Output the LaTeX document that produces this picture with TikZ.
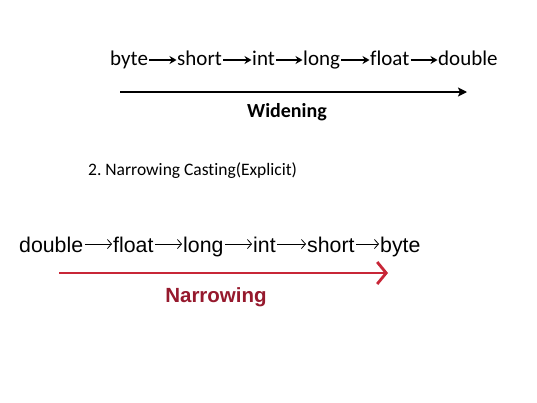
\documentclass[tikz,border=0pt]{standalone}
\usepackage{fontspec}
\usetikzlibrary{arrows.meta}
\newfontfamily\carlitofont[Ligatures=NoCommon]{Carlito}
\newfontfamily\arialfont{Liberation Sans}
\definecolor{arrowred}{RGB}{200,38,55}
\definecolor{labelred}{RGB}{150,25,45}
\tikzset{
  topword/.style={anchor=base west,inner sep=0pt,text height=14pt,text depth=4pt,font=\carlitofont\fontsize{21}{23}\selectfont},
  botword/.style={anchor=base west,inner sep=0pt,text height=20pt,text depth=4pt,font=\arialfont\fontsize{21.3}{24}\selectfont},
  toparrow/.style={line width=1.9pt,-{Stealth[length=7pt,width=8pt]},shorten <=1pt,shorten >=0.5pt},
  botarrow/.style={line width=0.8pt,-{Straight Barb[length=4pt,width=9pt]},shorten <=1.5pt,shorten >=1pt},
}
\begin{document}
\frenchspacing
\begin{tikzpicture}[x=1pt,y=-1pt]
\path[use as bounding box,fill=white] (0,0) rectangle (537,402);
% top row
\node[topword] (t1) at (110,65) {byte};
\node[topword] (t2) at (177,65) {short};
\node[topword] (t3) at (252,65) {int};
\node[topword] (t4) at (303,65) {long};
\node[topword] (t5) at (370,65) {float};
\node[topword] (t6) at (438,65) {double};
\draw[toparrow] (t1) -- (t2);
\draw[toparrow] (t2) -- (t3);
\draw[toparrow] (t3) -- (t4);
\draw[toparrow] (t4) -- (t5);
\draw[toparrow] (t5) -- (t6);
\coordinate (ws) at (120,92);
\coordinate (we) at (467,92);
\draw[line width=2pt,-{Stealth[length=9pt,width=9pt,inset=2pt]}] (ws) -- (we);
\node[inner sep=0pt,font=\carlitofont\bfseries\fontsize{20}{22}\selectfont] (wl) at (287,112) {Widening};
% middle text
\node[anchor=base west,inner sep=0pt,font=\carlitofont\fontsize{17.5}{20}\selectfont] (mt) at (88,175) {2. Narrowing Casting(Explicit)};
% bottom row
\node[botword] (b1) at (19,252) {double};
\node[botword] (b2) at (113,252) {float};
\node[botword] (b3) at (183,252) {long};
\node[botword] (b4) at (253,252) {int};
\node[botword] (b5) at (307,252) {short};
\node[botword] (b6) at (380,252) {byte};
\draw[botarrow] (b1) -- (b2);
\draw[botarrow] (b2) -- (b3);
\draw[botarrow] (b3) -- (b4);
\draw[botarrow] (b4) -- (b5);
\draw[botarrow] (b5) -- (b6);
\coordinate (ns) at (59,273);
\coordinate (ne) at (388,273);
\draw[arrowred,line width=2.8pt,-{Straight Barb[length=9pt,width=22pt,line width=2.8pt]}] (ns) -- (ne);
\node[inner sep=0pt,text=labelred,font=\arialfont\bfseries\fontsize{20.5}{23}\selectfont] (nl) at (216,297) {Narrowing};
\end{tikzpicture}
\end{document}
